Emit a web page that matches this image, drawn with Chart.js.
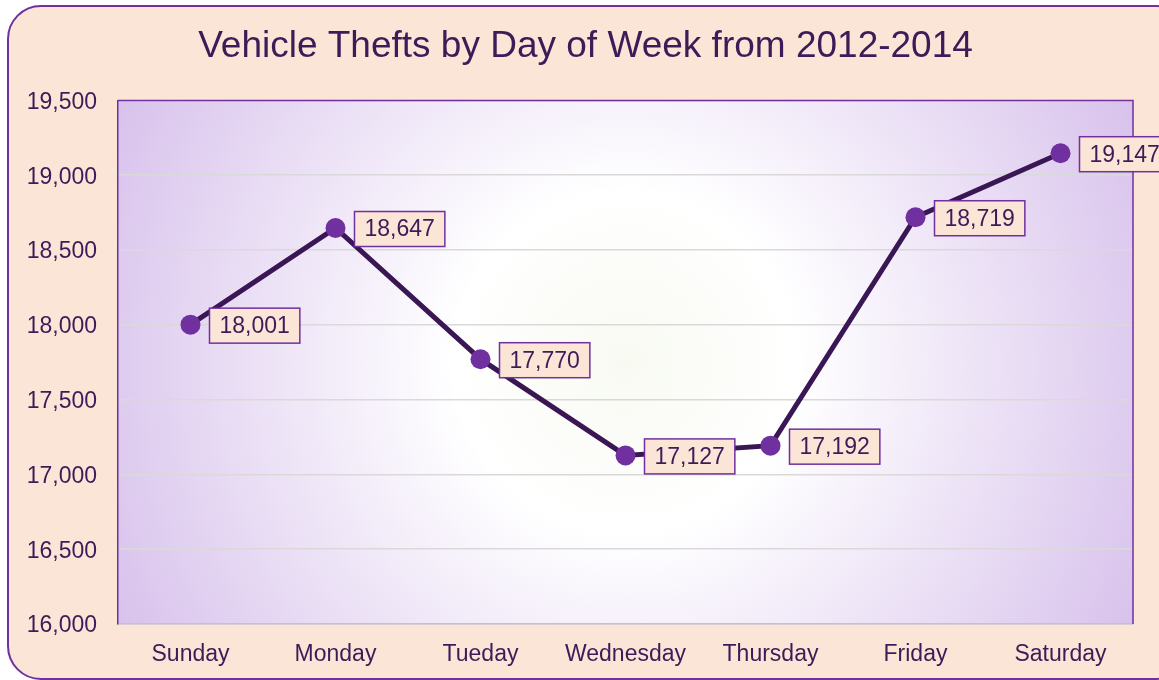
<!DOCTYPE html>
<html>
<head>
<meta charset="utf-8">
<script src="https://cdn.jsdelivr.net/npm/chart.js@4"></script>
<style>
  html, body { margin: 0; padding: 0; background: #fff; overflow: hidden; }
  #panel {
    position: absolute; left: 7px; top: 5px; width: 1180px; height: 671px;
    border: 2px solid #7030A0; border-radius: 34px; background: #FBE5D6;
  }
  #wrap { position: absolute; left: 0; top: 0; width: 1159px; height: 680px; }
</style>
</head>
<body>
<div id="panel"></div>
<div id="wrap"><canvas id="myChart" width="1159" height="680"></canvas></div>
<script>
const days = ['Sunday', 'Monday', 'Tueday', 'Wednesday', 'Thursday', 'Friday', 'Saturday'];
const thefts = [18001, 18647, 17770, 17127, 17192, 18719, 19147];
const yMin = 16000, yMax = 19500, yStep = 500;
const titleText = 'Vehicle Thefts by Day of Week from 2012-2014';

const textColor = '#3B1C58';
const purple = '#7030A0';
const fontFamily = '"Liberation Sans", Arial, sans-serif';

// plot area background + frame
const plotBg = {
  id: 'plotBg',
  beforeDraw(chart) {
    const { ctx, chartArea: a } = chart;
    const cx = (a.left + a.right) / 2, cy = (a.top + a.bottom) / 2;
    const r = Math.hypot(a.width, a.height) / 2;
    const g = ctx.createRadialGradient(cx, cy, 0, cx, cy, r);
    g.addColorStop(0, '#F8FAF2');
    g.addColorStop(0.3, '#FFFFFF');
    g.addColorStop(1, '#D8C2EC');
    ctx.save();
    ctx.fillStyle = g;
    ctx.fillRect(a.left, a.top, a.width, a.height);
    ctx.restore();
  },
  beforeDatasetsDraw(chart) {
    const { ctx, chartArea: a } = chart;
    ctx.save();
    ctx.strokeStyle = purple;
    ctx.lineWidth = 1.5;
    ctx.beginPath();
    ctx.moveTo(a.left, a.top);
    ctx.lineTo(a.right, a.top);
    ctx.lineTo(a.right, a.bottom);
    ctx.stroke();
    ctx.restore();
  }
};

// title drawn by hand so it can sit off the plot centre like the original
const titleDraw = {
  id: 'titleDraw',
  afterDraw(chart) {
    const { ctx, chartArea: a } = chart;
    ctx.save();
    ctx.font = '37px ' + fontFamily;
    ctx.fillStyle = textColor;
    ctx.textAlign = 'center';
    ctx.textBaseline = 'middle';
    ctx.fillText(titleText, (38 + a.right) / 2, 47);
    ctx.restore();
  }
};

// boxed value labels to the right of each point
const valueBoxes = {
  id: 'valueBoxes',
  afterDatasetsDraw(chart) {
    const { ctx } = chart;
    const meta = chart.getDatasetMeta(0);
    ctx.save();
    ctx.font = '23px ' + fontFamily;
    ctx.textBaseline = 'middle';
    meta.data.forEach((pt, i) => {
      const txt = thefts[i].toLocaleString('en-US');
      const w = ctx.measureText(txt).width + 20;
      const h = 35;
      const x = pt.x + 19, y = pt.y - h / 2 + 1;
      ctx.fillStyle = '#FBE5D6';
      ctx.fillRect(x, y, w, h);
      ctx.strokeStyle = purple;
      ctx.lineWidth = 1.5;
      ctx.strokeRect(x, y, w, h);
      ctx.fillStyle = textColor;
      ctx.fillText(txt, x + 10, y + h / 2 + 1);
    });
    ctx.restore();
  }
};

new Chart('myChart', {
  type: 'line',
  data: {
    labels: days,
    datasets: [{
      label: 'Vehicle Thefts',
      data: thefts,
      borderColor: '#3A1654',
      borderWidth: 5,
      pointRadius: 10,
      pointHoverRadius: 10,
      pointBackgroundColor: purple,
      pointBorderWidth: 0,
      tension: 0,
      fill: false
    }]
  },
  options: {
    responsive: false,
    animation: false,
    layout: { padding: { left: 0, right: 26, top: 0, bottom: 0 } },
    plugins: {
      legend: { display: false },
      tooltip: { enabled: false },
      title: {
        display: true,
        text: titleText,
        color: 'rgba(0,0,0,0)',
        font: { family: fontFamily, size: 37, weight: 'normal' },
        padding: { top: 27, bottom: 29 }
      }
    },
    scales: {
      x: {
        offset: true,
        grid: { display: false, drawTicks: false },
        border: { display: true, color: '#C9BCD6', width: 1.5 },
        ticks: { color: textColor, font: { family: fontFamily, size: 23 }, padding: 17, maxRotation: 0 },
        afterFit(scale) { scale.height = 56; }
      },
      y: {
        min: yMin,
        max: yMax,
        ticks: {
          stepSize: yStep,
          color: textColor,
          font: { family: fontFamily, size: 23 },
          padding: 21,
          labelOffset: 2,
          callback: v => v.toLocaleString('en-US')
        },
        grid: { color: '#D9D9D9', lineWidth: 1.5, drawTicks: false },
        border: { display: true, color: purple, width: 1.5 },
        afterFit(scale) { scale.width = 118; }
      }
    }
  },
  plugins: [plotBg, valueBoxes, titleDraw]
});
</script>
</body>
</html>
